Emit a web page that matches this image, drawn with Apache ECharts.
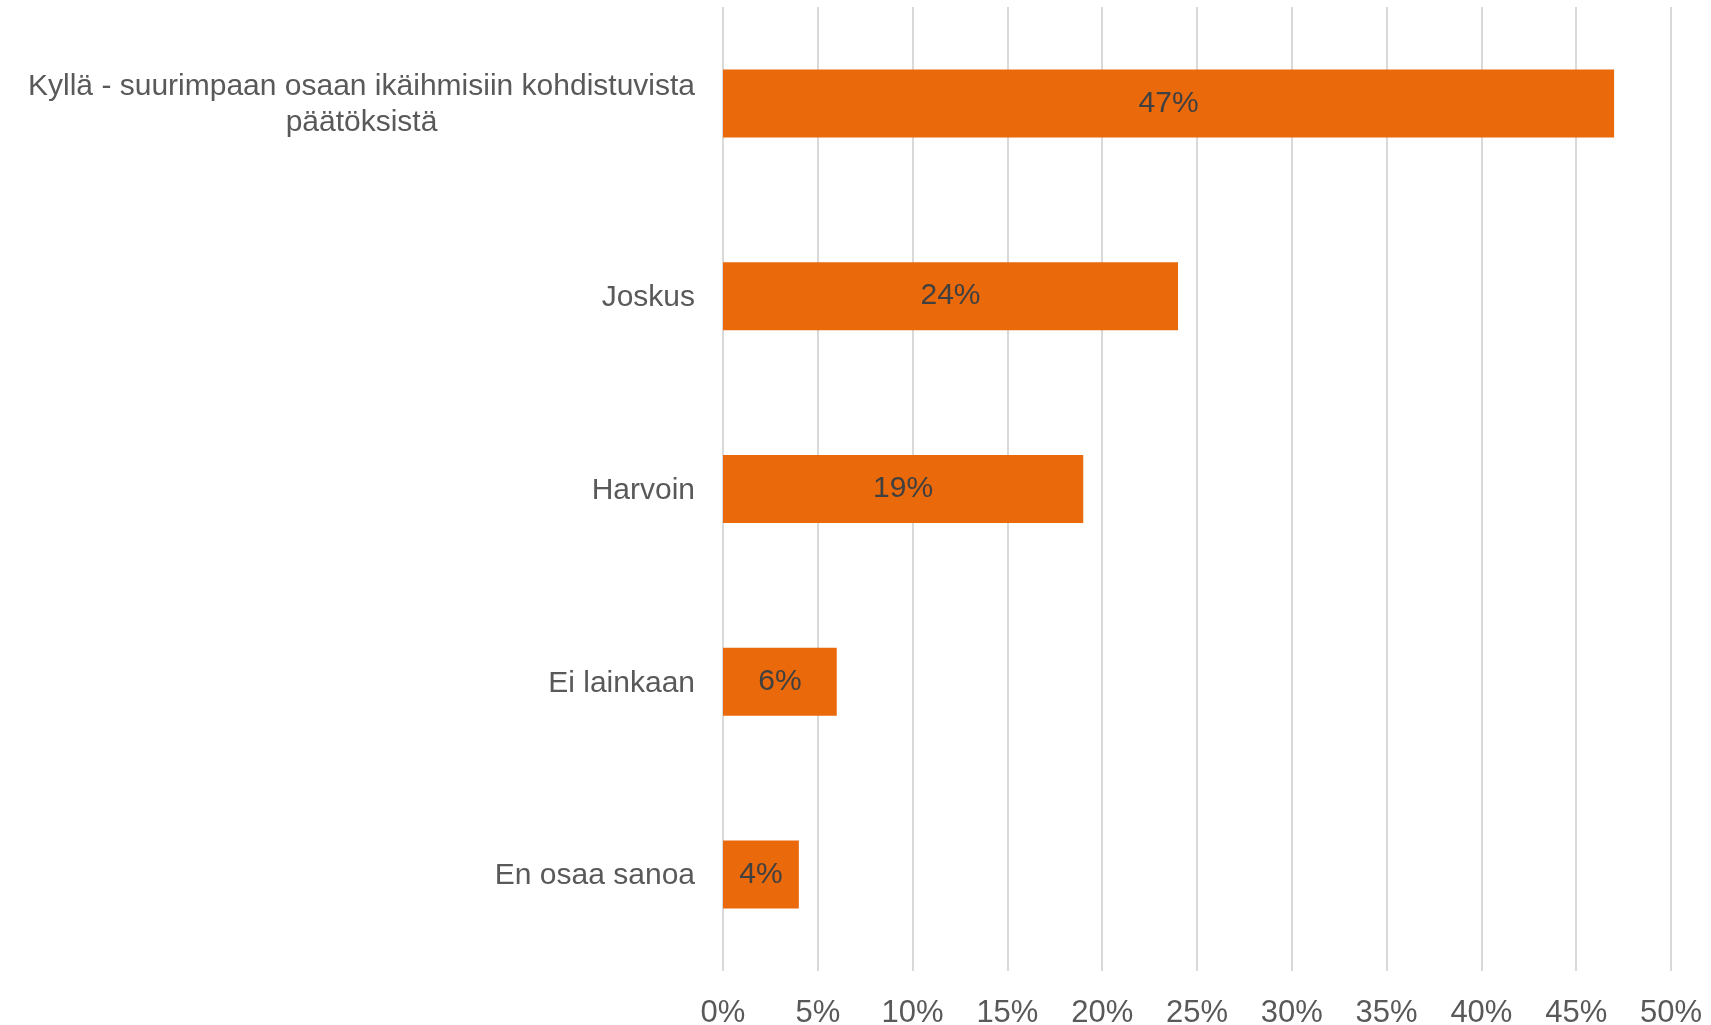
<!DOCTYPE html>
<html><head><meta charset="utf-8">
<script src="https://cdn.jsdelivr.net/npm/echarts@6/dist/echarts.min.js"></script>
<style>html,body{margin:0;padding:0;background:#fff}#c{width:1711px;height:1025px}</style>
</head><body><div id="c"></div>
<script>
const categories = ["Kyllä - suurimpaan osaan ikäihmisiin kohdistuvista\npäätöksistä", "Joskus", "Harvoin", "Ei lainkaan", "En osaa sanoa"];
const values = [47, 24, 19, 6, 4];
const tickLabels = ["0%","5%","10%","15%","20%","25%","30%","35%","40%","45%","50%"];

const FONT = "Liberation Sans";
const chart = echarts.init(document.getElementById('c'));
chart.setOption({
  animation: false,
  grid: { left: 723, right: 40, top: 7, bottom: 54, containLabel: false, outerBoundsMode: 'none' },
  xAxis: {
    type: 'value', min: 0, max: 50, interval: 5,
    axisLine: { show: false }, axisTick: { show: false },
    splitLine: { lineStyle: { color: '#D9D9D9', width: 2 } },
    axisLabel: { color: '#595959', fontFamily: FONT, fontSize: 31, margin: 27,
      formatter: v => tickLabels[Math.round(v / 5)] }
  },
  yAxis: {
    type: 'category', inverse: true, data: categories,
    axisLine: { show: false }, axisTick: { show: false },
    axisLabel: {
      margin: 28,
      padding: [3, 0, 0, 0],
      formatter: v => v.split('\n').map(s => '{a|' + s + '}').join('\n'),
      rich: { a: { color: '#595959', fontFamily: FONT, fontSize: 30, lineHeight: 36, align: 'center' } }
    }
  },
  series: [{
    type: 'bar', data: values, barWidth: 68,
    itemStyle: { color: '#EA690B' },
    label: { show: true, position: 'inside', color: '#404040', fontFamily: FONT, fontSize: 30,
      formatter: p => p.value + '%' }
  }]
});
</script></body></html>
